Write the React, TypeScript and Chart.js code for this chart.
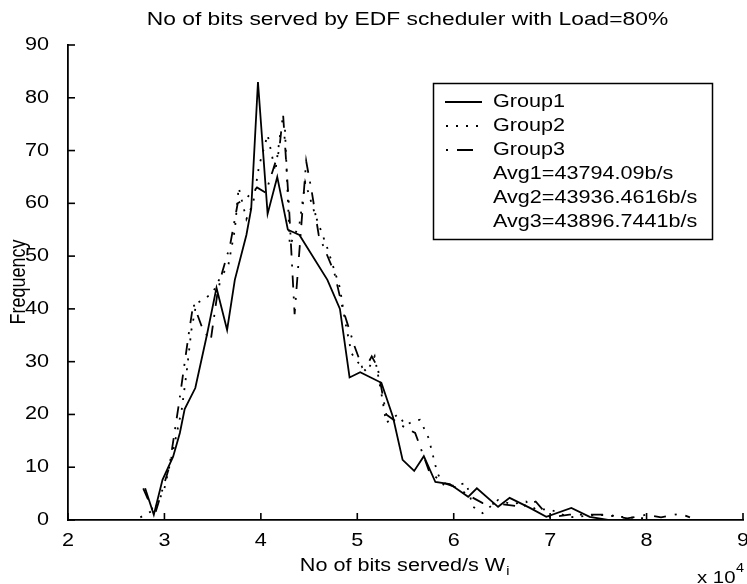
import React, { useEffect, useRef } from 'react';
import { Chart, registerables } from 'chart.js';
Chart.register(...registerables);

const TITLE = 'No of bits served by EDF scheduler with Load=80%';
const X_LABEL = 'No of bits served/s W';
const X_LABEL_SUB = 'i';
const Y_LABEL = 'Frequency';
const X_EXP_BASE = 'x 10';
const X_EXP = '4';
const SERIES_NAMES = ['Group1', 'Group2', 'Group3'];
const AVG_LINES = ['Avg1=43794.09b/s', 'Avg2=43936.4616b/s', 'Avg3=43896.7441b/s'];
const X_MIN = 2;
const X_MAX = 9;
const Y_MIN = 0;
const Y_MAX = 90;

// x values in units of 10^4 b/s
const g1X = [2.8, 2.89, 2.98, 3.09, 3.16, 3.21, 3.32, 3.44, 3.54, 3.65, 3.73, 3.85, 3.9, 3.97, 4.07, 4.17, 4.28, 4.4, 4.69, 4.82, 4.92, 5.03, 5.25, 5.37, 5.47, 5.59, 5.69, 5.81, 5.96, 6.15, 6.24, 6.46, 6.58, 6.79, 6.96, 7.22, 7.41, 7.6];
const g1Y = [6, 1, 7.6, 12, 16.5, 21, 25, 35, 44, 36, 45.5, 54, 59, 83, 58, 65, 55, 54, 45.5, 40, 27, 28, 26, 19.5, 11.4, 9.3, 12.1, 7.2, 6.8, 4.4, 6, 2.5, 4.2, 2.3, 0.6, 2.3, 0.6, 0];

const g2X = [2.75, 2.9, 3.0, 3.1, 3.18, 3.23, 3.28, 3.33, 3.42, 3.5, 3.58, 3.66, 3.73, 3.77, 3.85, 3.92, 3.98, 4.07, 4.15, 4.2, 4.25, 4.3, 4.4, 4.46, 4.56, 4.69, 4.82, 4.87, 4.94, 5.0, 5.1, 5.18, 5.25, 5.3, 5.42, 5.5, 5.57, 5.65, 5.74, 5.83, 5.9, 6.0, 6.13, 6.2, 6.3, 6.46, 6.6, 6.75, 6.85, 7.0, 7.2, 7.5, 7.8, 8.0];
const g2Y = [0.5, 2, 6, 14, 21, 28, 36, 41, 42, 43, 46, 48, 55, 63, 57, 60, 67, 73, 66, 73, 74, 52, 56, 64, 58, 51.5, 44, 38, 31.6, 30, 28, 31, 24, 18.4, 20, 18, 18.6, 19, 15.5, 8.9, 6.5, 6.5, 7, 2.5, 1.3, 3.8, 3, 3.5, 2, 2, 0.5, 1, 0.5, 0.3];

const g3X = [2.78, 2.9, 2.95, 3.05, 3.15, 3.25, 3.3, 3.4, 3.48, 3.55, 3.6, 3.68, 3.76, 3.85, 3.96, 4.05, 4.12, 4.19, 4.23, 4.29, 4.33, 4.35, 4.47, 4.53, 4.6, 4.76, 4.85, 4.97, 5.05, 5.12, 5.15, 5.21, 5.3, 5.45, 5.6, 5.75, 5.9, 6.05, 6.15, 6.3, 6.5, 6.7, 6.85, 6.92, 7.0, 7.2, 7.45, 7.6, 7.8, 8.0, 8.15, 8.35, 8.45];
const g3Y = [6, 1, 4, 10, 22, 35, 41, 36, 34, 43, 47, 52, 60, 61, 63, 62, 66, 70, 77, 60, 46, 39, 68, 62, 54, 47, 40, 33, 29, 30, 31, 29, 20, 18, 16.5, 9, 7, 6, 4.7, 3.2, 3, 2.5, 3.5, 2, 0.5, 1, 1, 1, 0.3, 1, 0.5, 1.2, 0.5];

const FONT = '"Liberation Sans", Arial, Helvetica, sans-serif';
const SX = 1.2;

function drawText(ctx: CanvasRenderingContext2D, text: string, x: number, y: number, size: number, align: CanvasTextAlign, sx = SX) {
  ctx.save();
  ctx.translate(x, y);
  ctx.scale(sx, 1);
  ctx.font = `${size}px ${FONT}`;
  ctx.textAlign = align;
  ctx.textBaseline = 'middle';
  ctx.fillStyle = '#000';
  ctx.fillText(text, 0, 0);
  ctx.restore();
}

function textWidth(ctx: CanvasRenderingContext2D, text: string, size: number, sx = SX) {
  ctx.save();
  ctx.font = `${size}px ${FONT}`;
  const w = ctx.measureText(text).width * sx;
  ctx.restore();
  return w;
}

const DASH2 = [2, 8];
const DASH3 = [12, 9, 2, 9];

const decorPlugin = {
  id: 'decor',
  afterDraw(chart: any) {
    const ctx: CanvasRenderingContext2D = chart.ctx;
    const xs = chart.scales.x;
    const ys = chart.scales.y;
    const area = chart.chartArea;
    ctx.save();
    ctx.strokeStyle = '#000';
    ctx.lineWidth = 1.6;
    // inward ticks
    xs.ticks.forEach((t: any) => {
      const px = xs.getPixelForValue(t.value);
      ctx.beginPath();
      ctx.moveTo(px, area.bottom);
      ctx.lineTo(px, area.bottom - 7);
      ctx.stroke();
      drawText(ctx, String(t.value), px, area.bottom + 21, 18, 'center');
    });
    ys.ticks.forEach((t: any) => {
      const py = ys.getPixelForValue(t.value);
      ctx.beginPath();
      ctx.moveTo(area.left, py);
      ctx.lineTo(area.left + 7, py);
      ctx.stroke();
      drawText(ctx, String(t.value), area.left - 19, py, 18, 'right');
    });
    // title
    drawText(ctx, TITLE, (area.left + area.right) / 2 + 2, 20, 19, 'center');
    // x label
    const wMain = textWidth(ctx, X_LABEL, 18);
    const cx = (area.left + area.right) / 2;
    const xStart = cx - wMain / 2 - 3;
    drawText(ctx, X_LABEL, xStart, 566, 18, 'left');
    drawText(ctx, X_LABEL_SUB, xStart + wMain + 1, 572, 12, 'left');
    // exponent
    drawText(ctx, X_EXP_BASE, 697, 578, 17, 'left');
    drawText(ctx, X_EXP, 736, 569, 12, 'left');
    // y label rotated
    ctx.save();
    ctx.translate(19, 282);
    ctx.rotate(-Math.PI / 2);
    ctx.scale(1, SX);
    ctx.font = `18px ${FONT}`;
    ctx.textAlign = 'center';
    ctx.textBaseline = 'middle';
    ctx.fillStyle = '#000';
    ctx.fillText(Y_LABEL, 0, 0);
    ctx.restore();

    // legend box
    const bx = 433.5, by = 83.5, bw = 279, bh = 156;
    ctx.fillStyle = '#fff';
    ctx.fillRect(bx, by, bw, bh);
    ctx.lineWidth = 1.5;
    ctx.strokeRect(bx, by, bw, bh);
    const rows = [102, 126, 150, 174, 198, 222];
    const names = [...SERIES_NAMES, ...AVG_LINES];
    names.forEach((n, i) => drawText(ctx, n, 493, rows[i], 18, 'left'));
    // samples
    ctx.lineWidth = 1.8;
    ctx.beginPath();
    ctx.moveTo(445, rows[0]);
    ctx.lineTo(482, rows[0]);
    ctx.stroke();
    ctx.setLineDash(DASH2);
    ctx.beginPath();
    ctx.moveTo(446, rows[1]);
    ctx.lineTo(482, rows[1]);
    ctx.stroke();
    ctx.setLineDash([2, 9, 16, 9]);
    ctx.beginPath();
    ctx.moveTo(446, rows[2]);
    ctx.lineTo(477, rows[2]);
    ctx.stroke();
    ctx.setLineDash([]);
    ctx.restore();
  },
};

export default function App() {
  const ref = useRef<HTMLCanvasElement>(null);
  useEffect(() => {
    if (!ref.current) return;
    const mk = (xArr: number[], yArr: number[]) => xArr.map((x, i) => ({ x, y: yArr[i] }));
    const chart = new Chart(ref.current, {
      type: 'line',
      data: {
        datasets: [
          { label: SERIES_NAMES[0], data: mk(g1X, g1Y), borderColor: '#000', borderWidth: 1.8, pointRadius: 0, tension: 0, fill: false },
          { label: SERIES_NAMES[1], data: mk(g2X, g2Y), borderColor: '#000', borderWidth: 1.8, borderDash: DASH2, pointRadius: 0, tension: 0, fill: false },
          { label: SERIES_NAMES[2], data: mk(g3X, g3Y), borderColor: '#000', borderWidth: 1.8, borderDash: DASH3, pointRadius: 0, tension: 0, fill: false },
        ],
      },
      options: {
        animation: false,
        responsive: false,
        devicePixelRatio: 1,
        layout: { padding: { top: 45, right: 4, left: 0, bottom: 0 } },
        plugins: { legend: { display: false }, title: { display: false }, tooltip: { enabled: false } },
        scales: {
          x: {
            type: 'linear',
            min: X_MIN,
            max: X_MAX,
            ticks: { display: false, stepSize: 1 },
            grid: { display: false, drawTicks: false },
            border: { display: true, color: '#000', width: 1.8 },
            afterFit: (s: any) => { s.height = 64; s.paddingLeft = 0; s.paddingRight = 0; },
          },
          y: {
            type: 'linear',
            min: Y_MIN,
            max: Y_MAX,
            ticks: { display: false, stepSize: 10 },
            grid: { display: false, drawTicks: false },
            border: { display: true, color: '#000', width: 1.8 },
            afterFit: (s: any) => { s.width = 68; s.paddingTop = 0; s.paddingBottom = 0; },
          },
        },
      } as any,
      plugins: [decorPlugin],
    });
    return () => chart.destroy();
  }, []);
  return (
    <div style={{ position: 'absolute', left: 0, top: 0, width: 747, height: 584, background: '#fff' }}>
      <canvas ref={ref} width={747} height={584} />
    </div>
  );
}
